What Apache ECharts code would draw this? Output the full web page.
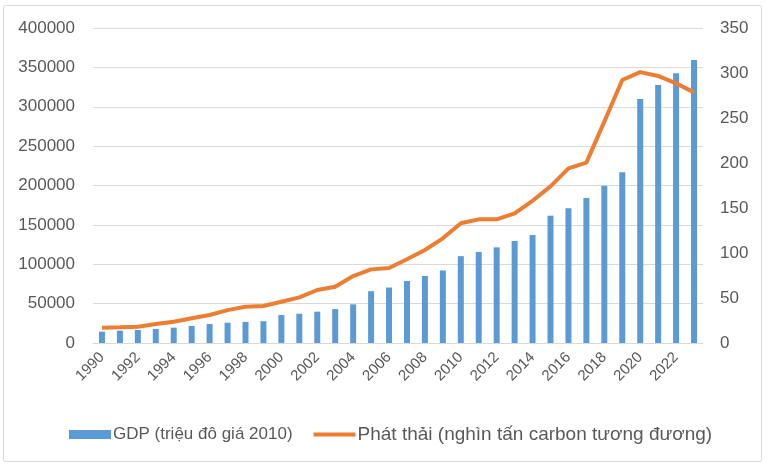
<!DOCTYPE html>
<html><head><meta charset="utf-8">
<script src="https://cdn.jsdelivr.net/npm/echarts@6/dist/echarts.min.js"></script>
<style>html,body{margin:0;padding:0;background:#fff}#c{width:770px;height:469px}</style>
</head><body><div id="c"></div>
<script>
const years = ['1990','1991','1992','1993','1994','1995','1996','1997','1998','1999','2000','2001','2002','2003','2004','2005','2006','2007','2008','2009','2010','2011','2012','2013','2014','2015','2016','2017','2018','2019','2020','2021','2022','2023'];
const gdp = [14400,15700,16500,17800,19500,21600,24100,25800,26800,27700,35500,37200,39800,43000,49100,65800,70500,78700,85100,92100,110300,115600,121500,129500,137100,161700,171000,184000,199800,216700,309800,327600,342500,359400];
const emissions = [17,17.4,18.1,21,23.7,27.4,31.1,36.5,40.2,41.1,45.9,50.7,58.9,62.6,74.4,81.8,83.3,93,103.3,116.3,133,137.4,137.4,144,158,174,194,200.4,246,292.2,301,296.7,288.5,278.5];
const gdpName = 'GDP (triệu đô giá 2010)';
const emName = 'Phát thải (nghìn tấn carbon tương đương)';

const chart = echarts.init(document.getElementById('c'), null, {renderer:'canvas'});
const txt = '#595959';
const font = 'Liberation Sans';
chart.setOption({
  animation:false,
  backgroundColor:'#fff',
  graphic:[{type:'rect',shape:{x:3.5,y:5.5,width:758,height:456,r:2},style:{fill:'none',stroke:'#d9d9d9',lineWidth:1}}],
  grid:{left:93,right:67,top:28,bottom:126},
  legend:{
    top:420,left:64,itemGap:21,itemWidth:42,itemHeight:9,
    textStyle:{color:txt,fontSize:17,fontFamily:font,padding:[0,0,0,-3]},
    data:[
      {name:gdpName,icon:'rect'},
      {name:emName,icon:'path://M0,0 L42,0 L42,4 L0,4 Z',itemStyle:{color:'#ED7D31'},
       textStyle:{color:txt,fontSize:19,fontFamily:font,padding:[0,0,0,-3]}}
    ]
  },
  xAxis:{
    type:'category',data:years,
    axisLine:{show:true,lineStyle:{color:'#d9d9d9'}},
    axisTick:{show:false},
    axisLabel:{interval:1,rotate:45,color:txt,fontSize:15,fontFamily:font,margin:12}
  },
  yAxis:[
    {type:'value',min:0,max:400000,interval:50000,
     axisLabel:{color:txt,fontSize:17,fontFamily:font,margin:18,formatter:v=>String(v)},
     splitLine:{lineStyle:{color:'#d9d9d9',width:1}},axisLine:{show:false},axisTick:{show:false}},
    {type:'value',min:0,max:350,interval:50,
     axisLabel:{color:txt,fontSize:17,fontFamily:font,margin:17},
     splitLine:{show:false},axisLine:{show:false},axisTick:{show:false}}
  ],
  series:[
    {name:gdpName,type:'bar',data:gdp,barWidth:6,itemStyle:{color:'#5B9BD5'}},
    {name:emName,type:'line',yAxisIndex:1,data:emissions,symbol:'none',
     lineStyle:{color:'#ED7D31',width:4},itemStyle:{color:'#ED7D31'}}
  ]
});
</script></body></html>
